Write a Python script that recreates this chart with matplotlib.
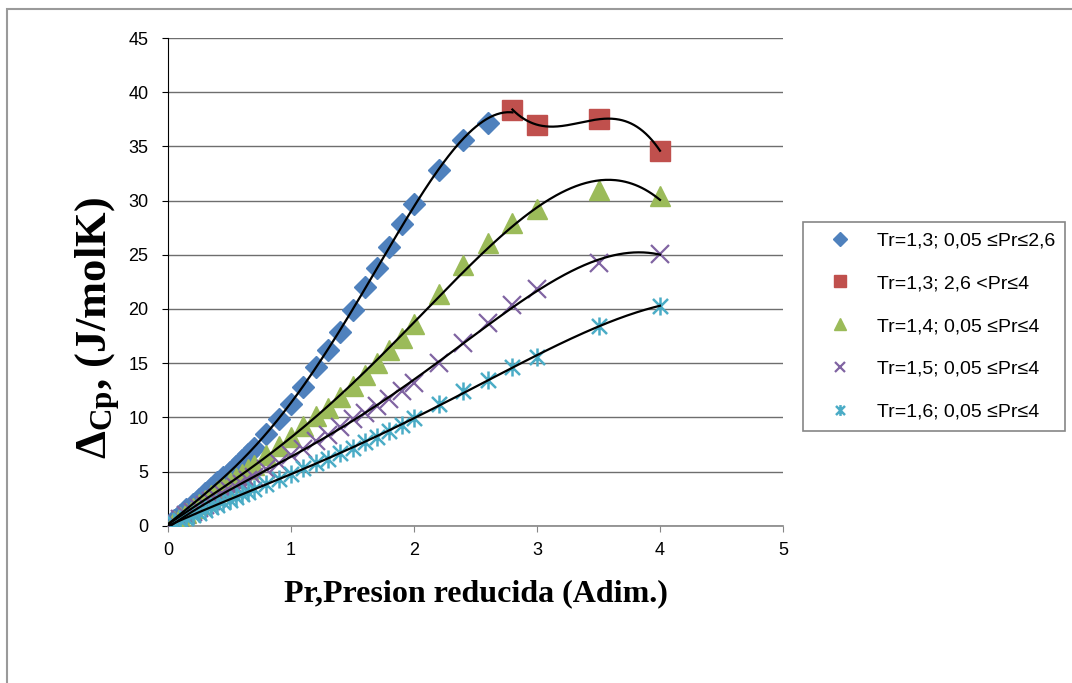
import numpy as np
import matplotlib
matplotlib.use('Agg')
import matplotlib.pyplot as plt
from matplotlib.path import Path
from matplotlib.patches import Rectangle

# reduced pressure values
pr_tr13 = [0.05, 0.1, 0.15, 0.2, 0.25, 0.3, 0.35, 0.4, 0.45, 0.5, 0.55, 0.6, 0.65, 0.7,
           0.8, 0.9, 1.0, 1.1, 1.2, 1.3, 1.4, 1.5, 1.6, 1.7, 1.8, 1.9, 2.0,
           2.2, 2.4, 2.6]
pr_tr13_hi = [2.8, 3.0, 3.5, 4.0]
pr_all = [0.05, 0.1, 0.15, 0.2, 0.25, 0.3, 0.35, 0.4, 0.45, 0.5, 0.55, 0.6, 0.65, 0.7,
          0.8, 0.9, 1.0, 1.1, 1.2, 1.3, 1.4, 1.5, 1.6, 1.7, 1.8, 1.9, 2.0,
          2.2, 2.4, 2.6, 2.8, 3.0, 3.5, 4.0]

# delta Cp (J/molK)
cp_tr13 = [0.5, 1.0, 1.5, 2.0, 2.5, 3.0, 3.5, 4.0, 4.5, 5.0, 5.5, 6.1, 6.6, 7.2,
           8.5, 9.8, 11.2, 12.8, 14.6, 16.2, 17.9, 19.9, 22.0, 23.8, 25.7, 27.8, 29.7,
           32.8, 35.6, 37.2]
cp_tr13_hi = [38.4, 37.0, 37.5, 34.6]
cp_tr14 = [0.4, 0.8, 1.2, 1.6, 2.0, 2.4, 2.8, 3.2, 3.6, 4.0, 4.4, 4.8, 5.2, 5.6,
           6.5, 7.4, 8.2, 9.2, 10.1, 10.9, 11.9, 12.9, 13.9, 15.0, 16.2, 17.3, 18.6,
           21.4, 24.1, 26.1, 27.9, 29.2, 31.0, 30.4]
cp_tr15 = [0.35, 0.65, 1.0, 1.3, 1.6, 1.95, 2.25, 2.6, 2.9, 3.2, 3.55, 3.85, 4.2, 4.5,
           5.2, 5.8, 6.5, 7.1, 7.8, 8.4, 9.1, 9.8, 10.4, 11.0, 11.7, 12.4, 13.2,
           15.0, 16.9, 18.7, 20.4, 21.8, 24.2, 25.1]
cp_tr16 = [0.25, 0.5, 0.75, 1.0, 1.2, 1.45, 1.7, 1.95, 2.2, 2.4, 2.65, 2.9, 3.1, 3.35,
           3.85, 4.3, 4.8, 5.3, 5.75, 6.2, 6.7, 7.2, 7.7, 8.2, 8.7, 9.3, 9.9,
           11.2, 12.4, 13.4, 14.6, 15.6, 18.4, 20.3]

labels = ['Tr=1,3; 0,05 \u2264Pr\u22642,6', 'Tr=1,3; 2,6 <Pr\u22644',
          'Tr=1,4; 0,05 \u2264Pr\u22644', 'Tr=1,5; 0,05 \u2264Pr\u22644',
          'Tr=1,6; 0,05 \u2264Pr\u22644']

plt.rcParams['font.family'] = ['Liberation Sans', 'DejaVu Sans']
plt.rcParams['mathtext.fontset'] = 'custom'
plt.rcParams['mathtext.rm'] = 'Liberation Serif:bold'
plt.rcParams['mathtext.it'] = 'Liberation Serif:bold'
plt.rcParams['mathtext.bf'] = 'Liberation Serif:bold'

# excel-like star marker: x with a vertical bar
star = Path([(-1, -1), (1, 1), (-1, 1), (1, -1), (0, -1.2), (0, 1.2)],
            [Path.MOVETO, Path.LINETO, Path.MOVETO, Path.LINETO, Path.MOVETO, Path.LINETO])

fig = plt.figure(figsize=(10.72, 6.83), dpi=100)
ax = fig.add_axes([168/1072, 1 - 525.7/683, 615/1072, 487.7/683])

ax.plot(pr_tr13, cp_tr13, 'D', color='#4F81BD', ms=11.5, mec='#4F81BD', label=labels[0], zorder=3)
ax.plot(pr_tr13_hi, cp_tr13_hi, 's', color='#C0504D', ms=14, label=labels[1], zorder=3)
ax.plot(pr_all, cp_tr14, '^', color='#9BBB59', ms=14, label=labels[2], zorder=3)
ax.plot(pr_all, cp_tr15, 'x', color='#8064A2', ms=13, mew=1.6, label=labels[3], zorder=3)
ax.plot(pr_all, cp_tr16, marker=star, ls='none', color='#4BACC6', ms=13, mew=1.8,
        label=labels[4], zorder=3)

# polynomial trendlines
xb = np.array(pr_tr13 + pr_tr13_hi[:1])
yb = np.array(cp_tr13 + cp_tr13_hi[:1])
p = np.polyfit(xb, yb, 4)
xx = np.linspace(0.0, 2.8, 200)
ax.plot(xx, np.polyval(p, xx), color='black', lw=1.6, zorder=4)

p = np.polyfit(pr_tr13_hi, cp_tr13_hi, 3)
xx = np.linspace(2.8, 4.0, 200)
ax.plot(xx, np.polyval(p, xx), color='black', lw=1.6, zorder=4)

for ys in [cp_tr14, cp_tr15, cp_tr16]:
    p = np.polyfit(pr_all, ys, 4)
    xx = np.linspace(0.0, 4.0, 300)
    ax.plot(xx, np.polyval(p, xx), color='black', lw=1.6, zorder=4)

ax.set_xlim(0, 5)
ax.set_ylim(0, 45)
ax.set_xticks(range(0, 6))
ax.set_yticks(range(0, 50, 5))
ax.grid(axis='y', color='#6e6e6e', lw=1.0)
ax.set_axisbelow(True)
ax.spines['top'].set_visible(False)
ax.spines['right'].set_visible(False)
ax.spines['bottom'].set_color('#868686')
ax.spines['bottom'].set_linewidth(1.2)
ax.spines['left'].set_color('black')
ax.tick_params(axis='both', labelsize=13, length=4, direction='out')
ax.tick_params(axis='y', pad=10)
ax.tick_params(axis='x', color='#868686', pad=8)

ax.set_xlabel('Pr,Presion reducida (Adim.)', family='Liberation Serif', fontweight='bold',
              fontsize=23, labelpad=14)
ax.set_ylabel(r'$\Delta_{\rm Cp}$, (J/molK)', family='Liberation Serif', fontweight='bold',
              fontsize=32)
ax.yaxis.set_label_coords(-0.075, 0.405)

leg = ax.legend(loc='upper left', bbox_to_anchor=(803/1072, 1 - 222/683),
                bbox_transform=fig.transFigure, fontsize=14, frameon=True,
                fancybox=False, edgecolor='#868686', framealpha=1,
                labelspacing=1.3, handlelength=2.8, handletextpad=0.5,
                borderpad=0.5, borderaxespad=0, markerscale=0.6)
leg.get_frame().set_linewidth(1.2)

# chart area border
fig.patches.append(Rectangle((7/1072, -0.1), 1.2, 1.1 - 9/683, transform=fig.transFigure,
                             fill=False, edgecolor='#9a9a9a', lw=1.5))

fig.savefig('out.png', dpi=100)
